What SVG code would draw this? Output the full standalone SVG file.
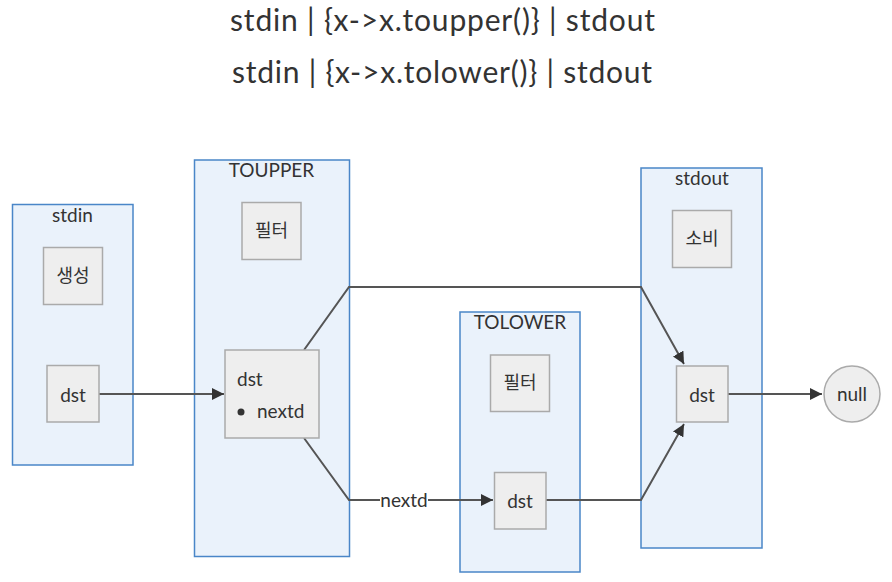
<svg xmlns="http://www.w3.org/2000/svg" width="892" height="582" viewBox="0 0 892 582">
<defs>
<style>
text{font-family:Lato,"Noto Sans","Noto Sans CJK KR",sans-serif;fill:#333}
.title{font-size:30px;text-anchor:middle}
.cl{fill:#eaf2fb;stroke:#4a86c8;stroke-width:1.5}
.ct{font-size:19px;text-anchor:middle}
.nd{fill:#eeeeee;stroke:#aaaaaa;stroke-width:1.5}
.nt{font-size:19px;text-anchor:middle}
.kt{font-size:18px;text-anchor:middle;font-family:"Noto Sans CJK KR",sans-serif}
.ed{fill:none;stroke:#555;stroke-width:2}
</style>
<marker id="arr" viewBox="0 0 10 10" refX="10" refY="5" markerWidth="6" markerHeight="6" orient="auto" markerUnits="strokeWidth">
<path d="M0,0 L10,5 L0,10 z" fill="#333"/>
</marker>
</defs>
<rect width="892" height="582" fill="#fff"/>
<text class="title" x="442.5" y="31" textLength="425" lengthAdjust="spacing">stdin | {x-&gt;x.toupper()} | stdout</text>
<text class="title" x="442" y="83" textLength="420" lengthAdjust="spacing">stdin | {x-&gt;x.tolower()} | stdout</text>

<g id="cluster-stdin">
<rect class="cl" x="12.5" y="204.5" width="120.5" height="260.5"/>
<text class="ct" x="72.5" y="222">stdin</text>
</g>
<g id="cluster-toupper">
<rect class="cl" x="194.5" y="160" width="155" height="396.5"/>
<text class="ct" x="271.5" y="177">TOUPPER</text>
</g>
<g id="cluster-tolower">
<rect class="cl" x="460" y="312" width="120" height="260"/>
<text class="ct" x="520" y="329">TOLOWER</text>
</g>
<g id="cluster-stdout">
<rect class="cl" x="641" y="168" width="121" height="380"/>
<text class="ct" x="702" y="185">stdout</text>
</g>

<g id="connectors">
<path class="ed" d="M99,394 L224,394" marker-end="url(#arr)"/>
<path class="ed" d="M304,350 L349,287 L641,287 L684,364" marker-end="url(#arr)"/>
<path class="ed" d="M304,438 L349,500 L493,500" marker-end="url(#arr)"/>
<path class="ed" d="M546,500 L641,500 L684,424" marker-end="url(#arr)"/>
<path class="ed" d="M728,394 L822,394" marker-end="url(#arr)"/>
<rect x="380" y="490" width="48" height="20" fill="#fff"/>
<text class="nt" x="404" y="507">nextd</text>
</g>

<g id="node-stdin-gen">
<rect class="nd" x="43.5" y="247.5" width="59" height="57"/>
<text class="kt" x="73" y="282">생성</text>
</g>
<g id="node-stdin-dst">
<rect class="nd" x="47" y="365.5" width="52" height="56.5"/>
<text class="nt" x="73" y="402">dst</text>
</g>
<g id="node-toupper-filter">
<rect class="nd" x="242" y="202.5" width="59" height="57"/>
<text class="kt" x="271.5" y="237">필터</text>
</g>
<g id="node-toupper-dst">
<rect class="nd" x="225" y="350" width="94" height="88"/>
<text x="237" y="386" style="font-size:19px">dst</text>
<circle cx="241" cy="412" r="3.5" fill="#333"/>
<text x="257" y="418" style="font-size:19px">nextd</text>
</g>
<g id="node-tolower-filter">
<rect class="nd" x="490.5" y="355" width="59" height="56.5"/>
<text class="kt" x="520" y="389">필터</text>
</g>
<g id="node-tolower-dst">
<rect class="nd" x="494.5" y="472.5" width="51.5" height="56.5"/>
<text class="nt" x="520" y="508">dst</text>
</g>
<g id="node-stdout-consume">
<rect class="nd" x="672.5" y="210.5" width="59" height="57"/>
<text class="kt" x="702" y="245">소비</text>
</g>
<g id="node-stdout-dst">
<rect class="nd" x="676.5" y="366" width="51.5" height="56"/>
<text class="nt" x="702" y="402">dst</text>
</g>
<g id="node-null">
<circle cx="852" cy="394" r="28" fill="#eeeeee" stroke="#aaaaaa" stroke-width="1.5"/>
<text class="nt" x="852" y="401">null</text>
</g>
</svg>
